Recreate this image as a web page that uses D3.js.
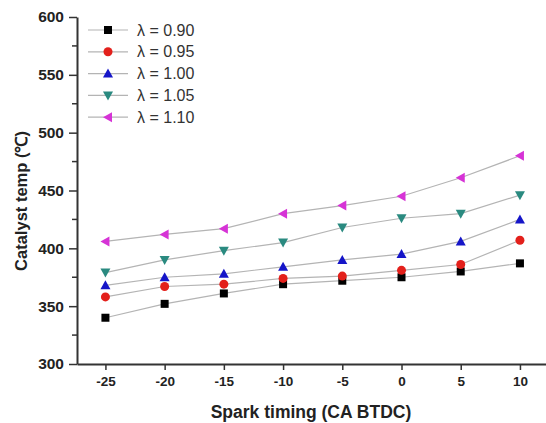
<!DOCTYPE html>
<html>
<head>
<meta charset="utf-8">
<script src="https://cdn.jsdelivr.net/npm/d3@7"></script>
<style>
  body { margin: 0; background: #fff; }
  svg { display: block; font-family: Arial, "Liberation Sans", sans-serif; }
</style>
</head>
<body>
<svg id="chart" width="546" height="423"></svg>
<script>
const timing = [-25, -20, -15, -10, -5, 0, 5, 10];

const lambda090 = [340, 352, 361, 369, 372, 375, 380, 387];
const lambda095 = [358, 367, 369, 374, 376, 381, 386, 407];
const lambda100 = [368, 375, 378, 384, 390, 395, 406, 425];
const lambda105 = [379, 390, 398, 405, 418, 426, 430, 446];
const lambda110 = [406, 412, 417, 430, 437, 445, 461, 480];

const seriesNames = ["λ = 0.90", "λ = 0.95", "λ = 1.00", "λ = 1.05", "λ = 1.10"];
const yTicks = [300, 350, 400, 450, 500, 550, 600];
const xTicks = [-25, -20, -15, -10, -5, 0, 5, 10];

const series = [
  { name: seriesNames[0], values: lambda090, color: "#000000", shape: "square" },
  { name: seriesNames[1], values: lambda095, color: "#e3201b", shape: "circle" },
  { name: seriesNames[2], values: lambda100, color: "#1515c8", shape: "up" },
  { name: seriesNames[3], values: lambda105, color: "#2a8a80", shape: "down" },
  { name: seriesNames[4], values: lambda110, color: "#d633d6", shape: "left" },
];

const svg = d3.select("#chart");
const plotLeft = 77, plotBottom = 364, plotTop = 17, plotRight = 546;

const x = d3.scaleLinear().domain([-27.4, 12.2]).range([plotLeft, plotRight]);
const y = d3.scaleLinear().domain([300, 600]).range([plotBottom, plotTop]);

// shapes
function marker(sel, shape, color) {
  const s = 4;
  if (shape === "square") {
    sel.append("rect").attr("x", -s).attr("y", -s).attr("width", 2 * s).attr("height", 2 * s).attr("fill", color);
  } else if (shape === "circle") {
    sel.append("circle").attr("r", s + 0.5).attr("fill", color);
  } else {
    let pts;
    if (shape === "up") pts = [[0, -5], [5, 4], [-5, 4]];
    if (shape === "down") pts = [[0, 5], [5, -4], [-5, -4]];
    if (shape === "left") pts = [[-5, 0], [4, -5], [4, 5]];
    sel.append("polygon").attr("points", pts.map(p => p.join(",")).join(" ")).attr("fill", color);
  }
}

// axes (plain hyphen for negatives, like the original)
const plain = d => String(d);
const yAxis = d3.axisLeft(y).tickValues(yTicks).tickFormat(plain).tickSize(8).tickPadding(5).tickSizeOuter(0);
const gy = svg.append("g").attr("transform", `translate(${plotLeft},0)`).call(yAxis);
const xAxis = d3.axisBottom(x).tickValues(xTicks).tickFormat(plain).tickSize(6).tickPadding(6).tickSizeOuter(0);
const gx = svg.append("g").attr("transform", `translate(0,${plotBottom})`).call(xAxis);

// minor y ticks
svg.append("g").selectAll("line")
  .data(d3.range(325, 600, 50))
  .join("line")
  .attr("x1", plotLeft - 5).attr("x2", plotLeft)
  .attr("y1", d => y(d)).attr("y2", d => y(d))
  .attr("stroke", "#333").attr("stroke-width", 1.5);

[gx, gy].forEach(g => {
  g.select(".domain").attr("stroke", "#333").attr("stroke-width", 2);
  g.selectAll(".tick line").attr("stroke", "#333").attr("stroke-width", 1.5);
  g.selectAll(".tick text").attr("fill", "#222").attr("font-weight", "bold");
});
gx.selectAll(".tick text").attr("font-size", 13.5);
gy.selectAll(".tick text").attr("font-size", 15.5);

// lines and markers
const line = d3.line().x((d, i) => x(timing[i])).y(d => y(d));
series.forEach(s => {
  svg.append("path")
    .attr("d", line(s.values))
    .attr("fill", "none")
    .attr("stroke", "#b4b4b4")
    .attr("stroke-width", 1.2);
});
series.forEach(s => {
  s.values.forEach((v, i) => {
    const g = svg.append("g").attr("transform", `translate(${x(timing[i])},${y(v)})`);
    marker(g, s.shape, s.color);
  });
});

// legend
const legend = svg.append("g").attr("transform", "translate(88,30)");
series.forEach((s, i) => {
  const g = legend.append("g").attr("transform", `translate(0,${i * 21.8})`);
  g.append("line").attr("x1", 0).attr("x2", 40).attr("stroke", "#b4b4b4").attr("stroke-width", 1.2);
  const m = g.append("g").attr("transform", "translate(20,0)");
  marker(m, s.shape, s.color);
  g.append("text").attr("x", 49).attr("dy", "0.35em")
    .attr("font-size", 16).attr("fill", "#333").text(s.name);
});

// axis titles
svg.append("text")
  .attr("x", 311).attr("y", 418)
  .attr("text-anchor", "middle")
  .attr("font-size", 17.5).attr("font-weight", "bold").attr("fill", "#222")
  .text("Spark timing (CA BTDC)");

svg.append("text")
  .attr("transform", "translate(27,201) rotate(-90)")
  .attr("text-anchor", "middle")
  .attr("font-size", 16.5).attr("font-weight", "bold").attr("fill", "#222")
  .text("Catalyst temp (℃)");
</script>
</body>
</html>
